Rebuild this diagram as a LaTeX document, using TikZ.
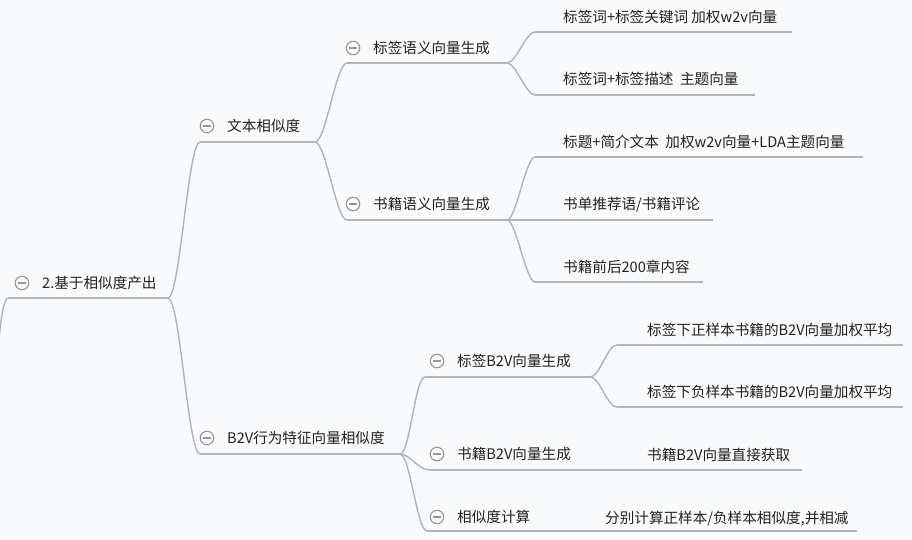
\documentclass[tikz,border=0pt]{standalone}
\usepackage{fontspec}
\setmainfont{Noto Sans CJK SC}
\definecolor{bgc}{RGB}{249,250,251}
\definecolor{linec}{RGB}{176,180,188}
\definecolor{txtc}{RGB}{34,34,34}
\definecolor{circc}{RGB}{150,150,150}
\begin{document}
\begin{tikzpicture}[x=1pt,y=-1pt,
  uline/.style={draw=linec, line width=1.4pt},
  conn/.style={draw=linec, line width=1.4pt},
  lbl/.style={anchor=base west, inner sep=0pt, text=txtc, font=\fontsize{14.6}{16}\selectfont},
  fold/.style={circle, draw=circc, line width=1.1pt, minimum size=13.5pt, inner sep=0pt,
    path picture={\draw[circc, line width=1.1pt]
      ([xshift=-4.4pt]path picture bounding box.center) -- ([xshift=4.4pt]path picture bounding box.center);}},
]
\fill[bgc] (0,0) rectangle (912,539);
\useasboundingbox (0,0) rectangle (912,539);
\clip (0,0) rectangle (912,539);

% ---------- root ----------
\node[fold] (r-c) at (22,283) {};
\node[lbl] (r) at (42,288.5) {2.基于相似度产出};
\coordinate (r-s) at (8,298); \coordinate (r-e) at (168,298);
\coordinate (offp) at (-6,430);
\draw[uline] (r-s) -- (r-e);
\draw[conn] (r-s) .. controls +(-7,0) and +(2,-70) .. (offp);

% ---------- level 1 ----------
\node[fold] (t1-c) at (207,126) {};
\node[lbl] (t1) at (227,131.5) {文本相似度};
\coordinate (t1-s) at (200,142); \coordinate (t1-e) at (315,142);
\draw[uline] (t1-s) -- (t1-e);

\node[fold] (t2-c) at (207,438) {};
\node[lbl] (t2) at (227,443.5) {B2V行为特征向量相似度};
\coordinate (t2-s) at (200,454); \coordinate (t2-e) at (400,454);
\draw[uline] (t2-s) -- (t2-e);

\draw[conn] (r-e) .. controls +(12,0) and +(-12,0) .. (t1-s);
\draw[conn] (r-e) .. controls +(12,0) and +(-12,0) .. (t2-s);

% ---------- level 2 (text) ----------
\node[fold] (t11-c) at (353,48) {};
\node[lbl] (t11) at (373,53.5) {标签语义向量生成};
\coordinate (t11-s) at (347,63); \coordinate (t11-e) at (507,63);
\draw[uline] (t11-s) -- (t11-e);

\node[fold] (t12-c) at (353,204) {};
\node[lbl] (t12) at (373,209.5) {书籍语义向量生成};
\coordinate (t12-s) at (347,220); \coordinate (t12-e) at (507,220);
\draw[uline] (t12-s) -- (t12-e);

\draw[conn] (t1-e) .. controls +(11,0) and +(-11,0) .. (t11-s);
\draw[conn] (t1-e) .. controls +(11,0) and +(-11,0) .. (t12-s);

% ---------- level 2 (B2V) ----------
\node[fold] (t21-c) at (437,361) {};
\node[lbl] (t21) at (457,366.5) {标签B2V向量生成};
\coordinate (t21-s) at (425,377); \coordinate (t21-e) at (590,377);
\draw[uline] (t21-s) -- (t21-e);

\node[fold] (t22-c) at (437,454) {};
\node[lbl] (t22) at (457,459.5) {书籍B2V向量生成};
\coordinate (t22-s) at (430,470); \coordinate (t22-e) at (590,470);
\draw[uline] (t22-s) -- (t22-e);

\node[fold] (t23-c) at (437,517) {};
\node[lbl] (t23) at (457,522.5) {相似度计算};
\coordinate (t23-s) at (427,531); \coordinate (t23-e) at (590,531);
\draw[uline] (t23-s) -- (t23-e);

\draw[conn] (t2-e) .. controls +(10,0) and +(-10,0) .. (t21-s);
\draw[conn] (t2-e) .. controls +(10,0) and +(-12,0) .. (t22-s);
\draw[conn] (t2-e) .. controls +(10,0) and +(-10,0) .. (t23-s);

% ---------- level 3 ----------
\node[lbl] (a1) at (563,22.5) {标签词+标签关键词 加权w2v向量};
\coordinate (a1-s) at (535,32); \coordinate (a1-e) at (792,32);
\draw[uline] (a1-s) -- (a1-e);

\node[lbl] (a2) at (563,84.5) {标签词+标签描述\ \ 主题向量};
\coordinate (a2-s) at (535,95); \coordinate (a2-e) at (755,95);
\draw[uline] (a2-s) -- (a2-e);

\draw[conn] (t11-e) .. controls +(9,0) and +(-9,0) .. (a1-s);
\draw[conn] (t11-e) .. controls +(9,0) and +(-9,0) .. (a2-s);

\node[lbl] (b1) at (563,147.5) {标题+简介文本\ \ 加权w2v向量+LDA主题向量};
\coordinate (b1-s) at (535,157); \coordinate (b1-e) at (863,157);
\draw[uline] (b1-s) -- (b1-e);

\node[lbl] (b2) at (563,209.5) {书单推荐语/书籍评论};
\coordinate (b2-s) at (535,220); \coordinate (b2-e) at (713,220);
\draw[uline] (b2-s) -- (b2-e);

\node[lbl] (b3) at (563,272.5) {书籍前后200章内容};
\coordinate (b3-s) at (535,282); \coordinate (b3-e) at (703,282);
\draw[uline] (b3-s) -- (b3-e);

\draw[conn] (t12-e) .. controls +(9,0) and +(-9,0) .. (b1-s);
\draw[conn] (t12-e) -- (b2-s);
\draw[conn] (t12-e) .. controls +(9,0) and +(-9,0) .. (b3-s);

\node[lbl] (c1) at (647,335.5) {标签下正样本书籍的B2V向量加权平均};
\coordinate (c1-s) at (617,345); \coordinate (c1-e) at (903,345);
\draw[uline] (c1-s) -- (c1-e);

\node[lbl] (c2) at (647,397.5) {标签下负样本书籍的B2V向量加权平均};
\coordinate (c2-s) at (617,407); \coordinate (c2-e) at (903,407);
\draw[uline] (c2-s) -- (c2-e);

\draw[conn] (t21-e) .. controls +(10,0) and +(-10,0) .. (c1-s);
\draw[conn] (t21-e) .. controls +(10,0) and +(-10,0) .. (c2-s);

\node[lbl] (d1) at (647,460.5) {书籍B2V向量直接获取};
\coordinate (d1-s) at (617,470); \coordinate (d1-e) at (802,470);
\draw[uline] (d1-s) -- (d1-e);
\draw[conn] (t22-e) -- (d1-s);

\node[lbl] (e1) at (605,523.5) {分别计算正样本/负样本相似度,并相减};
\coordinate (e1-s) at (600,531); \coordinate (e1-e) at (857,531);
\draw[uline] (e1-s) -- (e1-e);
\draw[conn] (t23-e) -- (e1-s);
\end{tikzpicture}
\end{document}
